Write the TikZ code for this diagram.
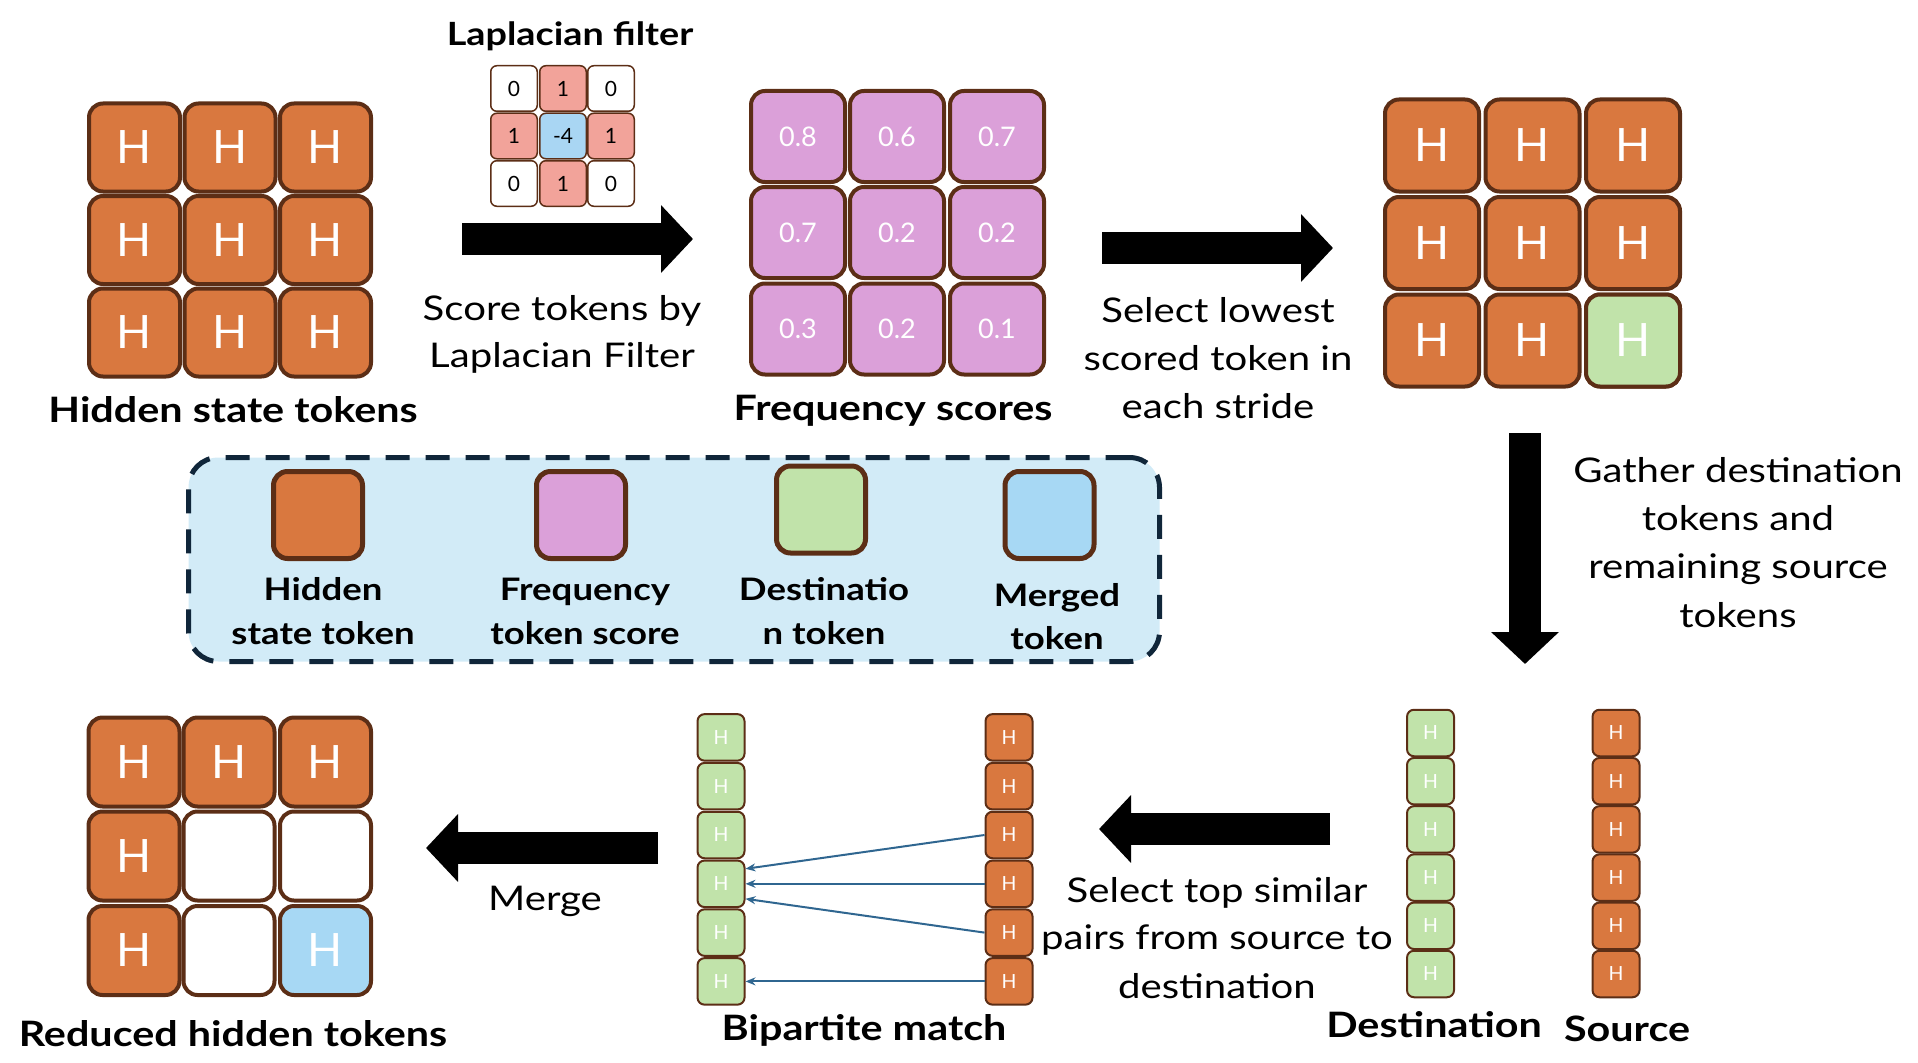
\documentclass[tikz,border=0pt]{standalone}
\usepackage{fontspec}
\setmainfont{Lato}
\newfontfamily\widefont{Lato}[FakeStretch=1.18]
\usetikzlibrary{arrows.meta,calc}
\definecolor{hor}{HTML}{D9783F}
\definecolor{brd}{HTML}{5C2E16}
\definecolor{fpk}{HTML}{DBA0D9}
\definecolor{dgr}{HTML}{C1E3AA}
\definecolor{mbl}{HTML}{A7D8F4}
\definecolor{lsal}{HTML}{F2A39A}
\definecolor{lblu}{HTML}{A9D6F3}
\definecolor{lgbg}{HTML}{D2EBF7}
\definecolor{lgbd}{HTML}{10263A}
\definecolor{mblue}{HTML}{2F6690}
\newcommand\fsz[1]{\fontsize{#1}{#1}\selectfont}
\begin{document}
\begin{tikzpicture}[x=1pt,y=-1pt,
  cellbase/.style={draw=brd, inner sep=0pt, text=white},
  bigcell/.style={cellbase, line width=4pt, rounded corners=14pt, minimum width=91pt, minimum height=88pt, font=\fsz{46}},
  freqcell/.style={cellbase, line width=4pt, rounded corners=14pt, minimum width=94pt, minimum height=91pt, fill=fpk, font=\fsz{27}},
  gcell/.style={cellbase, line width=4pt, rounded corners=14pt, minimum width=94pt, minimum height=92pt, font=\fsz{46}},
  redcell/.style={cellbase, line width=4pt, rounded corners=14pt, minimum width=91pt, minimum height=89pt, font=\fsz{46}},
  lapcell/.style={cellbase, line width=1.5pt, rounded corners=6pt, minimum width=46.5pt, minimum height=45.5pt, text=black, font=\fsz{21}},
  colcell/.style={cellbase, line width=2pt, rounded corners=7pt, minimum width=47pt, minimum height=46.5pt, font=\fsz{19.5}},
  legsq/.style={draw=brd, line width=5pt, rounded corners=14pt, minimum width=89pt, minimum height=87pt, inner sep=0pt},
  legendbox/.style={draw=lgbd, fill=lgbg, line width=5pt, dash pattern=on 24pt off 16pt, rounded corners=30pt, minimum width=971pt, minimum height=204pt, inner sep=0pt},
  blockarrow/.style={line width=32pt, -{Triangle[length=32pt,width=66pt]}},
  match/.style={mblue, line width=2pt, -{Stealth[length=10pt,width=8pt]}},
  lab/.style={anchor=base, font=\widefont\bfseries\fsz{35}},
  txt/.style={anchor=base, font=\widefont\fsz{34}},
  leg/.style={anchor=base, font=\widefont\bfseries\fsz{31}}]
\useasboundingbox (0,0) rectangle (1918,1062);

% legend box
\node[legendbox] (legend) at (674,559.5) {};

% hidden state grid
\foreach \r/\yy in {1/147.5,2/240,3/332.5}
  \foreach \c/\xx in {1/134.5,2/230,3/325.5}
    \node[bigcell, fill=hor] (h\r\c) at (\xx,\yy) {H};
\node[lab] (hlab) at (233,422) {Hidden state tokens};

% Laplacian filter
\node[lab, font=\widefont\bfseries\fsz{32}] (laplab) at (570,46) {Laplacian filter};
\node[lapcell, fill=white] (l11) at (514,88.5) {0};
\node[lapcell, fill=lsal]  (l12) at (563,88.5) {1};
\node[lapcell, fill=white] (l13) at (611,88.5) {0};
\node[lapcell, fill=lsal]  (l21) at (514,136) {1};
\node[lapcell, fill=lblu]  (l22) at (563,136) {-4};
\node[lapcell, fill=lsal]  (l23) at (611,136) {1};
\node[lapcell, fill=white] (l31) at (514,183.5) {0};
\node[lapcell, fill=lsal]  (l32) at (563,183.5) {1};
\node[lapcell, fill=white] (l33) at (611,183.5) {0};

% arrow 1
\coordinate (a1s) at (462,239);
\coordinate (a1e) at (693,239);
\draw[blockarrow] (a1s) -- (a1e);
\node[txt] (t1a) at (562,320) {Score tokens by};
\node[txt] (t1b) at (562,367) {Laplacian Filter};

% frequency grid
\node[freqcell] (f11) at (798,136.5) {0.8};
\node[freqcell] (f12) at (897,136.5) {0.6};
\node[freqcell] (f13) at (997,136.5) {0.7};
\node[freqcell] (f21) at (798,232.5) {0.7};
\node[freqcell] (f22) at (897,232.5) {0.2};
\node[freqcell] (f23) at (997,232.5) {0.2};
\node[freqcell] (f31) at (798,329) {0.3};
\node[freqcell] (f32) at (897,329) {0.2};
\node[freqcell] (f33) at (997,329) {0.1};
\node[lab] (flab) at (893,420) {Frequency scores};

% arrow 2
\coordinate (a2s) at (1102,248);
\coordinate (a2e) at (1333,248);
\draw[blockarrow] (a2s) -- (a2e);
\node[txt] (t2a) at (1218,322) {Select lowest};
\node[txt] (t2b) at (1218,370) {scored token in};
\node[txt] (t2c) at (1218,418) {each stride};

% grid 3
\foreach \r/\yy in {1/145.5,2/243,3/340.5}
  \foreach \c/\xx in {1/1432,2/1532.5,3/1633}
    \node[gcell, fill=hor] (s\r\c) at (\xx,\yy) {H};
\node[gcell, fill=dgr] (s33g) at (1633,340.5) {H};

% down arrow
\coordinate (a3s) at (1525,433);
\coordinate (a3e) at (1525,664);
\draw[blockarrow] (a3s) -- (a3e);
\node[txt] (t3a) at (1738,482) {Gather destination};
\node[txt] (t3b) at (1738,530) {tokens and};
\node[txt] (t3c) at (1738,578) {remaining source};
\node[txt] (t3d) at (1738,627) {tokens};

% destination and source columns
\foreach \i/\yy in {1/733,2/781.2,3/829.4,4/877.6,5/925.8,6/974}{
  \node[colcell, fill=dgr] (d\i) at (1430.5,\yy) {H};
  \node[colcell, fill=hor] (src\i) at (1616,\yy) {H};
}
\node[lab] (dlab) at (1434,1037) {Destination};
\node[lab] (srclab) at (1627,1041) {Source};

% arrow 4 (left)
\coordinate (a4s) at (1330,829);
\coordinate (a4e) at (1099,829);
\draw[blockarrow] (a4s) -- (a4e);
\node[txt] (t4a) at (1217,902) {Select top similar};
\node[txt] (t4b) at (1217,949) {pairs from source to};
\node[txt] (t4c) at (1217,998) {destination};

% bipartite match
\foreach \i/\yy in {1/737.4,2/786.2,3/835,4/883.8,5/932.6,6/981.4}{
  \node[colcell, fill=dgr] (g\i) at (721,\yy) {H};
  \node[colcell, fill=hor] (o\i) at (1009,\yy) {H};
}
\draw[match] (o3.west) -- ($(g4.east)+(0,-15)$);
\draw[match] (o4.west) -- (g4.east);
\draw[match] (o5.west) -- ($(g4.east)+(0,15)$);
\draw[match] (o6.west) -- (g6.east);
\node[lab] (blab) at (864,1040) {Bipartite match};

% merge arrow
\coordinate (a5s) at (658,848);
\coordinate (a5e) at (426,848);
\draw[blockarrow] (a5s) -- (a5e);
\node[txt] (t5) at (545,910) {Merge};

% reduced grid
\node[redcell, fill=hor] (r11) at (134,762) {H};
\node[redcell, fill=hor] (r12) at (229,762) {H};
\node[redcell, fill=hor] (r13) at (325.5,762) {H};
\node[redcell, fill=hor] (r21) at (134,856) {H};
\node[redcell, fill=white] (r22) at (229,856) {};
\node[redcell, fill=white] (r23) at (325.5,856) {};
\node[redcell, fill=hor] (r31) at (134,950.5) {H};
\node[redcell, fill=white] (r32) at (229,950.5) {};
\node[redcell, fill=mbl] (r33) at (325.5,950.5) {H};
\node[lab] (rlab) at (233,1046) {Reduced hidden tokens};

% legend items
\node[legsq, fill=hor] (q1) at (318,515) {};
\node[legsq, fill=fpk] (q2) at (581,515) {};
\node[legsq, fill=dgr] (q3) at (821,509.5) {};
\node[legsq, fill=mbl] (q4) at (1049.5,515) {};
\node[leg] (q1a) at (323,600) {Hidden};
\node[leg] (q1b) at (323,644) {state token};
\node[leg] (q2a) at (585,600) {Frequency};
\node[leg] (q2b) at (585,644) {token score};
\node[leg] (q3a) at (824,600) {Destinatio};
\node[leg] (q3b) at (824,644) {n token};
\node[leg] (q4a) at (1057,606) {Merged};
\node[leg] (q4b) at (1057,649) {token};
\end{tikzpicture}
\end{document}
